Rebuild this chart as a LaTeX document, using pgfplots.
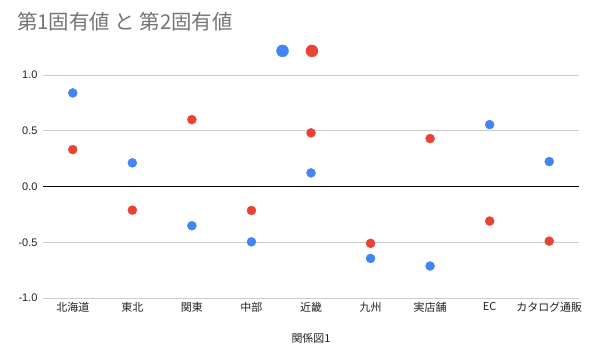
\documentclass[border=0pt]{standalone}
\usepackage{fontspec}
\setmainfont{Liberation Sans}
\newfontfamily\cjk{Noto Sans CJK JP}
\usepackage{pgfplots}
\pgfplotsset{compat=1.18}
\definecolor{gblue}{HTML}{4285F4}
\definecolor{gred}{HTML}{EA4335}
\definecolor{ttl}{HTML}{757575}
\definecolor{grd}{HTML}{CCCCCC}
\definecolor{lbl}{HTML}{222222}
\begin{document}
\begin{tikzpicture}[x=1bp,y=1bp]
\path[use as bounding box, fill=white] (0,0) rectangle (594,360);
\node[anchor=base west, text=ttl, inner sep=0pt, font=\cjk\fontsize{20.5}{24}\selectfont] at (17,331) {第1固有値 と 第2固有値};
\begin{axis}[
  at={(43bp,62bp)}, anchor=south west,
  scale only axis, width=536bp, height=223bp,
  xmin=-0.5, xmax=8.5, ymin=-1, ymax=1,
  axis line style={draw=none},
  major tick length=0pt,
  xtick={0,1,2,3,4,5,6,7,8},
  xticklabels={北海道,東北,関東,中部,近畿,九州,実店舗,EC,カタログ通販},
  xticklabel style={font=\cjk\fontsize{11}{13}\selectfont, text=lbl, yshift=-1bp},
  ytick={-1,-0.5,0,0.5,1},
  yticklabels={-1.0,-0.5,0.0,0.5,1.0},
  yticklabel style={font=\fontsize{11}{13}\selectfont, text=lbl, xshift=-2bp},
  ymajorgrids, grid style={grd, line width=0.8pt},
  xlabel={関係図1},
  xlabel style={font=\cjk\fontsize{11}{13}\selectfont, text=lbl, yshift=-14bp},
  clip=false,
  legend style={draw=none, fill=none, legend columns=2, at={(0.478,1.108)}, anchor=center,
     /tikz/every even column/.append style={column sep=13bp}},
  legend image code/.code={\fill (0.2cm,0cm) circle (6bp);},
]
\addplot[only marks, mark=*, mark size=4.5bp, color=gblue, mark options={draw=gblue, fill=gblue}] coordinates {
 (0,0.839) (1,0.212) (2,-0.352) (3,-0.496) (4,0.122) (5,-0.645) (6,-0.713) (7,0.555) (8,0.224)};
\addlegendentry{}
\addplot[only marks, mark=*, mark size=4.5bp, color=gred, mark options={draw=gred, fill=gred}] coordinates {
 (0,0.331) (1,-0.212) (2,0.600) (3,-0.215) (4,0.481) (5,-0.510) (6,0.430) (7,-0.310) (8,-0.490)};
\addlegendentry{}
\draw[black, line width=0.9pt] (axis cs:-0.5,0) -- (axis cs:8.5,0);
\end{axis}
\end{tikzpicture}
\end{document}
